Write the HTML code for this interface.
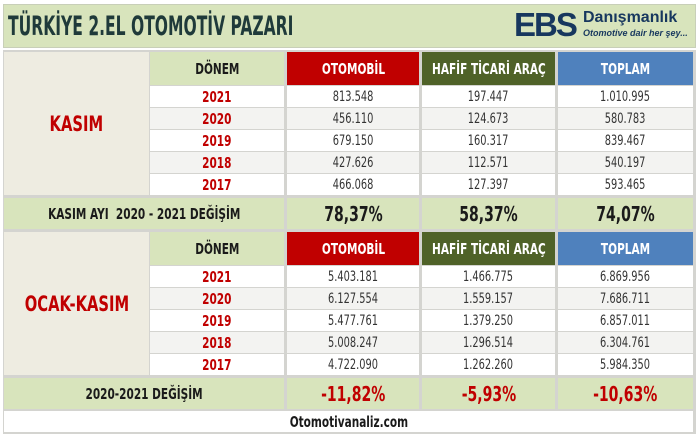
<!DOCTYPE html><html><head><meta charset="utf-8"><style>
body{margin:0;width:700px;height:437px;background:#fff;position:relative;overflow:hidden;font-family:"DejaVu Sans Condensed","Liberation Sans",sans-serif;}
div{position:absolute;display:flex;align-items:center;justify-content:center;box-sizing:border-box;white-space:nowrap;}
div>span{display:inline-block;transform:scaleX(.78);}
.g{background:#d8e4bc;color:#1a1a1a;font-weight:bold;}
.b{background:#eeece1;}
.w{background:#fff;color:#333;font-size:14px;}
.y{background:#fff;color:#c00000;font-weight:bold;font-size:15px;}
.a{background:#f3f3f1;}
.r{background:#c00000;color:#fff;font-weight:bold;font-size:15px;}
.o{background:#4f6228;color:#fff;font-weight:bold;font-size:15px;}
.bl{background:#4f81bd;color:#fff;font-weight:bold;font-size:15px;}
</style></head><body>
<div style="left:3px;top:4px;width:693px;height:44px;background:#d8e4bc;border:1px solid #c8cfb8"></div>
<div style="left:8px;top:7px;height:38px;justify-content:flex-start;font-size:27px;color:#1f3a3a;font-weight:bold;transform:scaleX(0.64);transform-origin:left">TÜRKİYE 2.EL OTOMOTİV PAZARI</div>
<div style="left:514px;top:8px;height:34px;font-size:33px;font-weight:900;color:#17375e;letter-spacing:-2px;font-family:'Liberation Sans',sans-serif">EBS</div>
<div style="left:583px;top:9px;height:18px;font-size:16px;font-weight:bold;color:#17375e;font-family:'Liberation Sans',sans-serif">Danışmanlık</div>
<div style="left:583px;top:27px;height:12px;font-size:9px;font-style:italic;font-weight:bold;color:#17375e;font-family:'Liberation Sans',sans-serif">Otomotive dair her şey...</div>
<div style="left:3px;top:50px;width:693px;height:384px;background:#d4d4d0"></div>

<div class="b" style="left:4px;top:52px;width:145px;height:143px;color:#c00000;font-weight:bold;font-size:21px"><span>KASIM</span></div>
<div class="g" style="left:150px;top:52px;width:134px;height:33px;font-size:15px"><span>DÖNEM</span></div>
<div class="r" style="left:287px;top:52px;width:132px;height:33px"><span>OTOMOBİL</span></div>
<div class="o" style="left:422px;top:52px;width:133px;height:33px"><span>HAFİF TİCARİ ARAÇ</span></div>
<div class="bl" style="left:558px;top:52px;width:135px;height:33px"><span>TOPLAM</span></div>

<div class="y" style="left:150px;top:86px;width:134px;height:21px"><span>2021</span></div><div class="w" style="left:287px;top:86px;width:132px;height:21px"><span>813.548</span></div><div class="w" style="left:422px;top:86px;width:133px;height:21px"><span>197.447</span></div><div class="w" style="left:558px;top:86px;width:135px;height:21px"><span>1.010.995</span></div>
<div class="y a" style="left:150px;top:108px;width:134px;height:21px"><span>2020</span></div><div class="w a" style="left:287px;top:108px;width:132px;height:21px"><span>456.110</span></div><div class="w a" style="left:422px;top:108px;width:133px;height:21px"><span>124.673</span></div><div class="w a" style="left:558px;top:108px;width:135px;height:21px"><span>580.783</span></div>
<div class="y" style="left:150px;top:130px;width:134px;height:21px"><span>2019</span></div><div class="w" style="left:287px;top:130px;width:132px;height:21px"><span>679.150</span></div><div class="w" style="left:422px;top:130px;width:133px;height:21px"><span>160.317</span></div><div class="w" style="left:558px;top:130px;width:135px;height:21px"><span>839.467</span></div>
<div class="y a" style="left:150px;top:152px;width:134px;height:21px"><span>2018</span></div><div class="w a" style="left:287px;top:152px;width:132px;height:21px"><span>427.626</span></div><div class="w a" style="left:422px;top:152px;width:133px;height:21px"><span>112.571</span></div><div class="w a" style="left:558px;top:152px;width:135px;height:21px"><span>540.197</span></div>
<div class="y" style="left:150px;top:174px;width:134px;height:21px"><span>2017</span></div><div class="w" style="left:287px;top:174px;width:132px;height:21px"><span>466.068</span></div><div class="w" style="left:422px;top:174px;width:133px;height:21px"><span>127.397</span></div><div class="w" style="left:558px;top:174px;width:135px;height:21px"><span>593.465</span></div>

<div class="g" style="left:4px;top:198px;width:280px;height:31px;font-size:15px"><span>KASIM AYI &nbsp;2020 - 2021 DEĞİŞİM</span></div>
<div class="g" style="left:287px;top:198px;width:132px;height:31px;font-size:20px"><span>78,37%</span></div>
<div class="g" style="left:422px;top:198px;width:133px;height:31px;font-size:20px"><span>58,37%</span></div>
<div class="g" style="left:558px;top:198px;width:135px;height:31px;font-size:20px"><span>74,07%</span></div>

<div class="b" style="left:4px;top:232px;width:145px;height:143px;color:#c00000;font-weight:bold;font-size:21px"><span>OCAK-KASIM</span></div>
<div class="g" style="left:150px;top:232px;width:134px;height:33px;font-size:15px"><span>DÖNEM</span></div>
<div class="r" style="left:287px;top:232px;width:132px;height:33px"><span>OTOMOBİL</span></div>
<div class="o" style="left:422px;top:232px;width:133px;height:33px"><span>HAFİF TİCARİ ARAÇ</span></div>
<div class="bl" style="left:558px;top:232px;width:135px;height:33px"><span>TOPLAM</span></div>

<div class="y" style="left:150px;top:266px;width:134px;height:21px"><span>2021</span></div><div class="w" style="left:287px;top:266px;width:132px;height:21px"><span>5.403.181</span></div><div class="w" style="left:422px;top:266px;width:133px;height:21px"><span>1.466.775</span></div><div class="w" style="left:558px;top:266px;width:135px;height:21px"><span>6.869.956</span></div>
<div class="y a" style="left:150px;top:288px;width:134px;height:21px"><span>2020</span></div><div class="w a" style="left:287px;top:288px;width:132px;height:21px"><span>6.127.554</span></div><div class="w a" style="left:422px;top:288px;width:133px;height:21px"><span>1.559.157</span></div><div class="w a" style="left:558px;top:288px;width:135px;height:21px"><span>7.686.711</span></div>
<div class="y" style="left:150px;top:310px;width:134px;height:21px"><span>2019</span></div><div class="w" style="left:287px;top:310px;width:132px;height:21px"><span>5.477.761</span></div><div class="w" style="left:422px;top:310px;width:133px;height:21px"><span>1.379.250</span></div><div class="w" style="left:558px;top:310px;width:135px;height:21px"><span>6.857.011</span></div>
<div class="y a" style="left:150px;top:332px;width:134px;height:21px"><span>2018</span></div><div class="w a" style="left:287px;top:332px;width:132px;height:21px"><span>5.008.247</span></div><div class="w a" style="left:422px;top:332px;width:133px;height:21px"><span>1.296.514</span></div><div class="w a" style="left:558px;top:332px;width:135px;height:21px"><span>6.304.761</span></div>
<div class="y" style="left:150px;top:354px;width:134px;height:21px"><span>2017</span></div><div class="w" style="left:287px;top:354px;width:132px;height:21px"><span>4.722.090</span></div><div class="w" style="left:422px;top:354px;width:133px;height:21px"><span>1.262.260</span></div><div class="w" style="left:558px;top:354px;width:135px;height:21px"><span>5.984.350</span></div>

<div class="g" style="left:4px;top:378px;width:280px;height:31px;font-size:15px"><span>2020-2021 DEĞİŞİM</span></div>
<div class="g" style="left:287px;top:378px;width:132px;height:31px;font-size:20px;color:#c00000"><span>-11,82%</span></div>
<div class="g" style="left:422px;top:378px;width:133px;height:31px;font-size:20px;color:#c00000"><span>-5,93%</span></div>
<div class="g" style="left:558px;top:378px;width:135px;height:31px;font-size:20px;color:#c00000"><span>-10,63%</span></div>

<div style="left:4px;top:411px;width:689px;height:21px;background:#fff;color:#1a1a1a;font-weight:bold;font-size:15px"><span>Otomotivanaliz.com</span></div>
</body></html>
